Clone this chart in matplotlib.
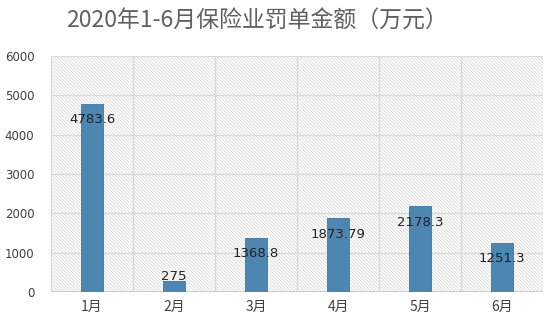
import matplotlib
matplotlib.use("Agg")
import matplotlib.pyplot as plt
from matplotlib.patches import Rectangle
import numpy as np

categories = ["1月", "2月", "3月", "4月", "5月", "6月"]
values = [4783.6, 275, 1368.8, 1873.79, 2178.3, 1251.3]
labels = ["4783.6", "275", "1368.8", "1873.79", "2178.3", "1251.3"]
yticks = [0, 1000, 2000, 3000, 4000, 5000, 6000]
title = "2020年1-6月保险业罚单金额（万元）"

plt.rcParams['font.family'] = ['Noto Sans CJK SC', 'DejaVu Sans']
plt.rcParams['hatch.linewidth'] = 0.5
plt.rcParams['hatch.color'] = '#d4d4d4'

fig = plt.figure(figsize=(5.53, 3.19), dpi=100)
ax = fig.add_axes([51/553, 1 - 292/319, 492/553, 236/319])

x = np.arange(len(categories))
ax.set_xlim(-0.5, len(categories) - 0.5)
ax.set_ylim(0, 6000)

bg = Rectangle((0, 0), 1, 1, transform=ax.transAxes, facecolor='white',
               edgecolor='#d4d4d4', hatch='\\' * 10, linewidth=0, zorder=0)
ax.add_patch(bg)

for yv in yticks:
    ax.axhline(yv, color='#d9d9d9', linewidth=1.0, zorder=1)
for b in np.arange(-0.5, len(categories) + 0.5, 1):
    ax.axvline(b, color='#d9d9d9', linewidth=1.0, zorder=1)

ax.bar(x, values, width=0.27, color='#4e86b2', edgecolor='#3f76a2',
       linewidth=0.6, zorder=3)

for xi, v, lab in zip(x, values, labels):
    yy = v - 400 if v > 800 else v + 110
    ax.text(xi, yy, lab, ha='center', va='center', fontsize=9.5,
            family=['DejaVu Sans'], color='#222222', zorder=4)

for s in ax.spines.values():
    s.set_visible(False)
ax.axhline(0, color='#c8c8c8', linewidth=1.2, zorder=2)

ax.set_yticks(yticks)
ax.set_yticklabels([str(t) for t in yticks], fontsize=8.5, color='#404040',
                   family=['DejaVu Sans'])
ax.set_xticks(x)
ax.set_xticklabels(categories, fontsize=10, color='#404040')
ax.tick_params(axis='both', length=0)
ax.tick_params(axis='y', pad=12)
ax.tick_params(axis='x', pad=6)

fig.text(257/553, 1 - 21/319, title, ha='center', va='center',
         fontsize=16.5, color='#606060')

fig.savefig("out.png", dpi=100, facecolor='white')
